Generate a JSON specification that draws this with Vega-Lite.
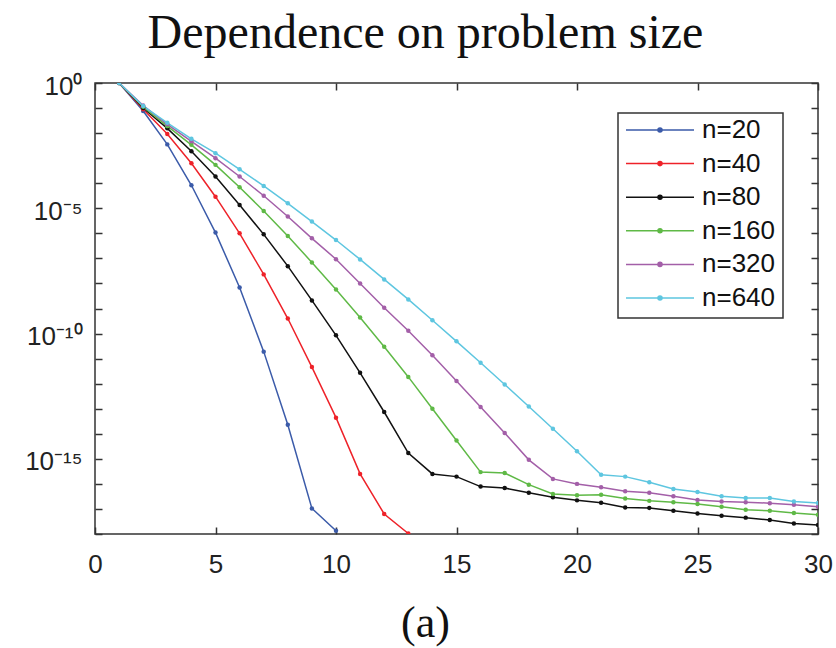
{
  "$schema": "https://vega.github.io/schema/vega-lite/v6.json",
  "autosize": {"type": "none"},
  "width": 723,
  "height": 451,
  "padding": {"left": 95, "top": 83, "right": 18, "bottom": 114},
  "background": "white",
  "config": {"view": {"stroke": "#333333", "strokeWidth": 1.5}},
  "title": {"text": "Dependence on problem size", "font": "Liberation Serif", "fontSize": 48, "fontWeight": "normal", "color": "#111111", "anchor": "middle", "dx": -31, "dy": 18, "offset": -5, "baseline": "alphabetic"},
  "data": {"values": [
    {"n": "n=20", "k": 1, "err": 1}, {"n": "n=20", "k": 2, "err": 7.6e-2}, {"n": "n=20", "k": 3, "err": 3.55e-3}, {"n": "n=20", "k": 4, "err": 8.3e-5}, {"n": "n=20", "k": 5, "err": 1.07e-6}, {"n": "n=20", "k": 6, "err": 6.9e-9}, {"n": "n=20", "k": 7, "err": 1.9e-11}, {"n": "n=20", "k": 8, "err": 2.3e-14}, {"n": "n=20", "k": 9, "err": 1.05e-17}, {"n": "n=20", "k": 10, "err": 1.35e-18},
    {"n": "n=40", "k": 1, "err": 1}, {"n": "n=40", "k": 2, "err": 8.9e-2}, {"n": "n=40", "k": 3, "err": 9.3e-3}, {"n": "n=40", "k": 4, "err": 6.3e-4}, {"n": "n=40", "k": 5, "err": 2.9e-5}, {"n": "n=40", "k": 6, "err": 1.0e-6}, {"n": "n=40", "k": 7, "err": 2.3e-8}, {"n": "n=40", "k": 8, "err": 3.98e-10}, {"n": "n=40", "k": 9, "err": 4.6e-12}, {"n": "n=40", "k": 10, "err": 4.4e-14}, {"n": "n=40", "k": 11, "err": 2.5e-16}, {"n": "n=40", "k": 12, "err": 6.3e-18}, {"n": "n=40", "k": 13, "err": 1.05e-18},
    {"n": "n=80", "k": 1, "err": 1}, {"n": "n=80", "k": 2, "err": 1.0e-1}, {"n": "n=80", "k": 3, "err": 1.55e-2}, {"n": "n=80", "k": 4, "err": 1.9e-3}, {"n": "n=80", "k": 5, "err": 1.86e-4}, {"n": "n=80", "k": 6, "err": 1.35e-5}, {"n": "n=80", "k": 7, "err": 9.1e-7}, {"n": "n=80", "k": 8, "err": 4.9e-8}, {"n": "n=80", "k": 9, "err": 2.1e-9}, {"n": "n=80", "k": 10, "err": 8.5e-11}, {"n": "n=80", "k": 11, "err": 2.7e-12}, {"n": "n=80", "k": 12, "err": 7.4e-14}, {"n": "n=80", "k": 13, "err": 1.7e-15}, {"n": "n=80", "k": 14, "err": 2.5e-16}, {"n": "n=80", "k": 15, "err": 1.95e-16}, {"n": "n=80", "k": 16, "err": 7.8e-17}, {"n": "n=80", "k": 17, "err": 6.8e-17}, {"n": "n=80", "k": 18, "err": 4.4e-17}, {"n": "n=80", "k": 19, "err": 2.95e-17}, {"n": "n=80", "k": 20, "err": 2.2e-17}, {"n": "n=80", "k": 21, "err": 1.78e-17}, {"n": "n=80", "k": 22, "err": 1.15e-17}, {"n": "n=80", "k": 23, "err": 1.1e-17}, {"n": "n=80", "k": 24, "err": 8.5e-18}, {"n": "n=80", "k": 25, "err": 6.6e-18}, {"n": "n=80", "k": 26, "err": 5.4e-18}, {"n": "n=80", "k": 27, "err": 4.5e-18}, {"n": "n=80", "k": 28, "err": 3.6e-18}, {"n": "n=80", "k": 29, "err": 2.6e-18}, {"n": "n=80", "k": 30, "err": 2.3e-18},
    {"n": "n=160", "k": 1, "err": 1}, {"n": "n=160", "k": 2, "err": 1.12e-1}, {"n": "n=160", "k": 3, "err": 1.9e-2}, {"n": "n=160", "k": 4, "err": 3.4e-3}, {"n": "n=160", "k": 5, "err": 5.4e-4}, {"n": "n=160", "k": 6, "err": 6.9e-5}, {"n": "n=160", "k": 7, "err": 7.8e-6}, {"n": "n=160", "k": 8, "err": 7.9e-7}, {"n": "n=160", "k": 9, "err": 6.9e-8}, {"n": "n=160", "k": 10, "err": 5.75e-9}, {"n": "n=160", "k": 11, "err": 4.4e-10}, {"n": "n=160", "k": 12, "err": 2.95e-11}, {"n": "n=160", "k": 13, "err": 1.86e-12}, {"n": "n=160", "k": 14, "err": 1.0e-13}, {"n": "n=160", "k": 15, "err": 5.4e-15}, {"n": "n=160", "k": 16, "err": 2.95e-16}, {"n": "n=160", "k": 17, "err": 2.7e-16}, {"n": "n=160", "k": 18, "err": 9.3e-17}, {"n": "n=160", "k": 19, "err": 3.98e-17}, {"n": "n=160", "k": 20, "err": 3.55e-17}, {"n": "n=160", "k": 21, "err": 3.7e-17}, {"n": "n=160", "k": 22, "err": 2.6e-17}, {"n": "n=160", "k": 23, "err": 2.1e-17}, {"n": "n=160", "k": 24, "err": 1.86e-17}, {"n": "n=160", "k": 25, "err": 1.58e-17}, {"n": "n=160", "k": 26, "err": 1.23e-17}, {"n": "n=160", "k": 27, "err": 9.3e-18}, {"n": "n=160", "k": 28, "err": 8.5e-18}, {"n": "n=160", "k": 29, "err": 6.9e-18}, {"n": "n=160", "k": 30, "err": 5.9e-18},
    {"n": "n=320", "k": 1, "err": 1}, {"n": "n=320", "k": 2, "err": 1.26e-1}, {"n": "n=320", "k": 3, "err": 2.24e-2}, {"n": "n=320", "k": 4, "err": 4.7e-3}, {"n": "n=320", "k": 5, "err": 1.0e-3}, {"n": "n=320", "k": 6, "err": 1.86e-4}, {"n": "n=320", "k": 7, "err": 3.16e-5}, {"n": "n=320", "k": 8, "err": 4.7e-6}, {"n": "n=320", "k": 9, "err": 6.3e-7}, {"n": "n=320", "k": 10, "err": 9.3e-8}, {"n": "n=320", "k": 11, "err": 1.0e-8}, {"n": "n=320", "k": 12, "err": 1.07e-9}, {"n": "n=320", "k": 13, "err": 1.29e-10}, {"n": "n=320", "k": 14, "err": 1.35e-11}, {"n": "n=320", "k": 15, "err": 1.29e-12}, {"n": "n=320", "k": 16, "err": 1.17e-13}, {"n": "n=320", "k": 17, "err": 1.07e-14}, {"n": "n=320", "k": 18, "err": 9.1e-16}, {"n": "n=320", "k": 19, "err": 1.58e-16}, {"n": "n=320", "k": 20, "err": 1.0e-16}, {"n": "n=320", "k": 21, "err": 7.4e-17}, {"n": "n=320", "k": 22, "err": 5.1e-17}, {"n": "n=320", "k": 23, "err": 4.4e-17}, {"n": "n=320", "k": 24, "err": 3.2e-17}, {"n": "n=320", "k": 25, "err": 2.3e-17}, {"n": "n=320", "k": 26, "err": 2.0e-17}, {"n": "n=320", "k": 27, "err": 1.86e-17}, {"n": "n=320", "k": 28, "err": 1.7e-17}, {"n": "n=320", "k": 29, "err": 1.48e-17}, {"n": "n=320", "k": 30, "err": 1.23e-17},
    {"n": "n=640", "k": 1, "err": 1}, {"n": "n=640", "k": 2, "err": 1.2e-1}, {"n": "n=640", "k": 3, "err": 2.57e-2}, {"n": "n=640", "k": 4, "err": 5.9e-3}, {"n": "n=640", "k": 5, "err": 1.58e-3}, {"n": "n=640", "k": 6, "err": 3.6e-4}, {"n": "n=640", "k": 7, "err": 7.8e-5}, {"n": "n=640", "k": 8, "err": 1.58e-5}, {"n": "n=640", "k": 9, "err": 2.95e-6}, {"n": "n=640", "k": 10, "err": 5.4e-7}, {"n": "n=640", "k": 11, "err": 9.1e-8}, {"n": "n=640", "k": 12, "err": 1.45e-8}, {"n": "n=640", "k": 13, "err": 2.3e-9}, {"n": "n=640", "k": 14, "err": 3.4e-10}, {"n": "n=640", "k": 15, "err": 4.9e-11}, {"n": "n=640", "k": 16, "err": 6.8e-12}, {"n": "n=640", "k": 17, "err": 9.3e-13}, {"n": "n=640", "k": 18, "err": 1.23e-13}, {"n": "n=640", "k": 19, "err": 1.58e-14}, {"n": "n=640", "k": 20, "err": 2.0e-15}, {"n": "n=640", "k": 21, "err": 2.3e-16}, {"n": "n=640", "k": 22, "err": 1.95e-16}, {"n": "n=640", "k": 23, "err": 1.17e-16}, {"n": "n=640", "k": 24, "err": 6.3e-17}, {"n": "n=640", "k": 25, "err": 4.7e-17}, {"n": "n=640", "k": 26, "err": 3.2e-17}, {"n": "n=640", "k": 27, "err": 2.75e-17}, {"n": "n=640", "k": 28, "err": 2.75e-17}, {"n": "n=640", "k": 29, "err": 2.0e-17}, {"n": "n=640", "k": 30, "err": 1.74e-17}
  ]},
  "layer": [
    {
      "mark": {"type": "line", "strokeWidth": 1.5, "clip": true, "point": {"filled": true, "size": 20}},
      "encoding": {
        "x": {"field": "k", "type": "quantitative", "scale": {"domain": [0, 30], "nice": false},
          "axis": {"orient": "bottom", "values": [0, 5, 10, 15, 20, 25, 30], "grid": false, "domain": false, "tickSize": -7, "tickWidth": 1.5, "tickColor": "#333333", "labelFont": "Liberation Sans", "labelFontSize": 26, "labelColor": "#222222", "labelPadding": 24, "labelFlush": false, "title": "(a)", "titleFont": "Liberation Serif", "titleFontSize": 44, "titleFontWeight": "normal", "titleColor": "#111111", "titleX": 330, "titleY": 102, "titleBaseline": "alphabetic", "titleAnchor": "middle", "titleAlign": "center"}},
        "y": {"field": "err", "type": "quantitative", "scale": {"type": "log", "domain": [1e-18, 1], "nice": false},
          "axis": {"orient": "left", "values": [1, 1e-1, 1e-2, 1e-3, 1e-4, 1e-5, 1e-6, 1e-7, 1e-8, 1e-9, 1e-10, 1e-11, 1e-12, 1e-13, 1e-14, 1e-15, 1e-16, 1e-17, 1e-18], "grid": false, "domain": false, "tickSize": -7, "tickWidth": 1.5, "tickColor": "#333333", "labelFont": "Liberation Sans", "labelFontSize": 26, "labelColor": "#222222", "labelPadding": 20, "labelOffset": 3, "labelFlush": false, "labelOverlap": false, "title": null,
            "labelExpr": "round(log(datum.value)/LN10) == 0 ? '10⁰' : round(log(datum.value)/LN10) == -5 ? '10⁻⁵' : round(log(datum.value)/LN10) == -10 ? '10⁻¹⁰' : round(log(datum.value)/LN10) == -15 ? '10⁻¹⁵' : ''"}},
        "color": {"field": "n", "type": "nominal", "sort": ["n=20", "n=40", "n=80", "n=160", "n=320", "n=640"],
          "scale": {"domain": ["n=20", "n=40", "n=80", "n=160", "n=320", "n=640"], "range": ["#3b5ba9", "#ee2229", "#111111", "#5fb946", "#a35fa8", "#5ec6e0"]},
          "legend": {"orient": "none", "legendX": 523, "legendY": 30, "title": null, "symbolType": "M-1,0H1M-0.06,0A0.06,0.06,0,1,1,0.06,0A0.06,0.06,0,1,1,-0.06,0Z", "symbolSize": 4624, "symbolStrokeWidth": 1.5, "clipHeight": 20, "rowPadding": 7.6, "labelFont": "Liberation Sans", "labelFontSize": 26, "labelColor": "#111111", "labelOffset": 7, "padding": 7, "strokeColor": "#333333", "fillColor": "white",
            "encode": {"legend": {"update": {"strokeWidth": {"value": 1.5}}}}}}
      }
    },
    {
      "mark": {"type": "point", "opacity": 0},
      "encoding": {
        "x": {"field": "k", "type": "quantitative", "axis": {"orient": "top", "values": [0, 5, 10, 15, 20, 25, 30], "grid": false, "domain": false, "labels": false, "tickSize": -7, "tickWidth": 1.5, "tickColor": "#333333", "title": null}},
        "y": {"field": "err", "type": "quantitative", "axis": {"orient": "right", "values": [1, 1e-1, 1e-2, 1e-3, 1e-4, 1e-5, 1e-6, 1e-7, 1e-8, 1e-9, 1e-10, 1e-11, 1e-12, 1e-13, 1e-14, 1e-15, 1e-16, 1e-17, 1e-18], "grid": false, "domain": false, "labels": false, "tickSize": -7, "tickWidth": 1.5, "tickColor": "#333333", "title": null}}
      }
    }
  ],
  "resolve": {"axis": {"x": "independent", "y": "independent"}}
}
